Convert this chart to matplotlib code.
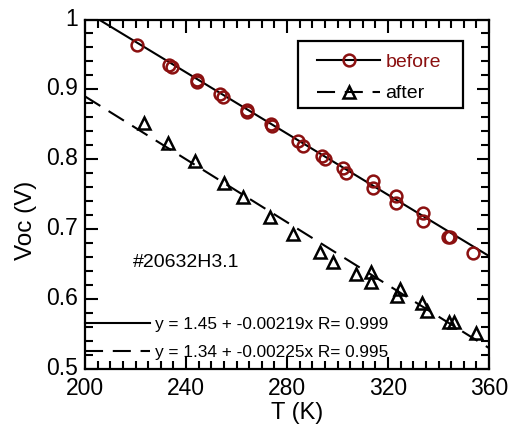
import matplotlib
matplotlib.use("Agg")
import matplotlib.pyplot as plt
import numpy as np
from matplotlib.lines import Line2D
from matplotlib.patches import Rectangle
from matplotlib.ticker import MultipleLocator
from matplotlib.transforms import ScaledTranslation

plt.rcParams['font.family'] = ['Liberation Sans', 'DejaVu Sans']
plt.rcParams['lines.scale_dashes'] = False

# data
T_before = [220.5, 233.4, 234.5, 244.2, 244.5, 253.5, 254.5, 264.0, 264.3, 273.5, 273.9,
            284.5, 286.5, 293.7, 295.0, 302.3, 303.4, 313.9, 313.9, 323.1, 323.1,
            333.7, 333.7, 343.9, 344.6, 353.8]
V_before = [0.9635, 0.935, 0.9325, 0.9135, 0.911, 0.893, 0.8895, 0.8705, 0.868, 0.850, 0.8476,
            0.8266, 0.819, 0.8047, 0.8009, 0.787, 0.780, 0.7694, 0.7585, 0.748, 0.737,
            0.7236, 0.7122, 0.6884, 0.6884, 0.6664]
T_after = [223.4, 233.0, 243.6, 255.0, 262.7, 273.3, 282.5, 293.1, 298.3, 307.3, 313.1, 313.1,
           324.8, 323.4, 333.3, 335.3, 344.3, 346.1, 354.9]
V_after = [0.8515, 0.8229, 0.798, 0.7665, 0.7456, 0.718, 0.6927, 0.668, 0.6535, 0.636, 0.639, 0.625,
           0.614, 0.6044, 0.594, 0.5834, 0.5677, 0.5677, 0.551]
fit_before = (1.45, -0.00219, 0.999)
fit_after = (1.34, -0.00225, 0.995)
T_fit = [200, 360]
labels = ['before', 'after']
sample_label = '#20632H3.1'
yticklabels = ['0.5', '0.6', '0.7', '0.8', '0.9', '1']

red = '#8b1010'
dash = (0, (13, 7))
W, H = 509, 428

fig = plt.figure(figsize=(W/100, H/100), dpi=100)
ax = fig.add_axes([85/W, 1-369/H, 404/W, 349.5/H])

Tf = np.array(T_fit, dtype=float)
ax.plot(Tf, fit_before[0] + fit_before[1]*Tf, color='black', lw=1.5)
ax.plot(Tf, fit_after[0] + fit_after[1]*Tf, color='black', lw=1.5, linestyle=dash)
ax.plot(T_before, V_before, linestyle='none', marker='o', ms=8.5, mfc='none', mec=red, mew=1.8)
ax.plot(T_after, V_after, linestyle='none', marker='^', ms=9, mfc='none', mec='black', mew=1.8)

ax.set_xlim(200, 360)
ax.set_ylim(0.5, 1.0)
ax.xaxis.set_major_locator(MultipleLocator(40))
ax.xaxis.set_minor_locator(MultipleLocator(5))
ax.yaxis.set_minor_locator(MultipleLocator(0.02))
ax.set_yticks(np.arange(0.5, 1.001, 0.1))
ax.set_yticklabels(yticklabels)
ax.tick_params(which='both', direction='in', top=True, right=True, width=1.5, labelsize=16.5)
ax.tick_params(which='major', length=9)
ax.tick_params(which='minor', length=6)
ax.tick_params(axis='x', pad=5.5)
ax.tick_params(axis='y', pad=5)
for s in ax.spines.values():
    s.set_linewidth(1.6)
up = ScaledTranslation(0, 3/100, fig.dpi_scale_trans)
for lab in ax.get_yticklabels():
    lab.set_transform(lab.get_transform() + up)

ax.set_xlabel('T (K)', fontsize=17)
ax.xaxis.set_label_coords((297.5-85)/404, -(402-369)/349.5)
ax.set_ylabel('Voc (V)', fontsize=17.5)
ax.yaxis.set_label_coords((37-85)/404, 1-(220-19.5)/349.5)

ax.text(219.0, 0.6517, sample_label, fontsize=14, va='center', ha='left')

# legend (box drawn separately to match its padding)
h1 = Line2D([], [], color='black', lw=1.5, marker='o', ms=8.5, mfc='none', mec=red, mew=1.8)
h2 = Line2D([], [], color='black', lw=1.5, linestyle=dash, marker='^', ms=9, mfc='none', mec='black', mew=1.8)
leg = fig.legend([h1, h2], labels, loc='upper left', bbox_to_anchor=(317/W, 1-53.5/H),
                 fontsize=14, handlelength=3.25, handletextpad=0.26, numpoints=1,
                 frameon=False, borderpad=0, labelspacing=0.7, borderaxespad=0)
leg.get_texts()[0].set_color(red)
fig.patches.append(Rectangle((298/W, 1-108/H), 165/W, 67/H, transform=fig.transFigure,
                             fill=False, edgecolor='black', linewidth=1.6))

eq_labels = ['y = %.2f + %.5fx R= %.3f' % fit_before, 'y = %.2f + %.5fx R= %.3f' % fit_after]
e1 = Line2D([], [], color='black', lw=1.5)
e2 = Line2D([], [], color='black', lw=1.5, linestyle=dash)
leg2 = ax.legend([e1, e2], eq_labels, loc='lower left', bbox_to_anchor=(0, 0.026),
                 fontsize=12.4, handlelength=3.78, handletextpad=0.3, frameon=False,
                 borderpad=0, borderaxespad=0, labelspacing=0.75)

fig.savefig('out.png', dpi=100)
